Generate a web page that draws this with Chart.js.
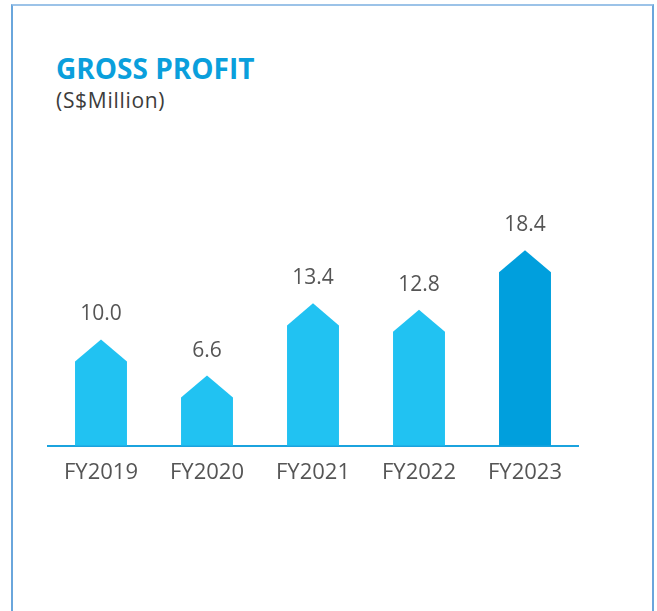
<!DOCTYPE html>
<html>
<head>
  <meta charset="utf-8">
  <title>Gross Profit</title>
  <script src="https://cdn.jsdelivr.net/npm/chart.js"></script>
  <style>
    html, body {
      margin: 0;
      padding: 0;
      background: white;
      font-family: 'Open Sans', sans-serif;
    }

    .page {
      position: relative;
      width: 657px;
      height: 611px;
      overflow: hidden;
    }

    .frame {
      position: absolute;
      left: 11px;
      top: 4px;
      width: 639px;
      height: 640px;
      border: 2px solid #6aa6dc;
      border-top-color: #9cc3e8;
    }

    .title {
      position: absolute;
      left: 56px;
      top: 49px;
      font-size: 28px;
      font-weight: bold;
      color: #0a9fdc;
      letter-spacing: 0px;
    }

    .subtitle {
      position: absolute;
      left: 56px;
      top: 86px;
      font-size: 21px;
      color: #3c3c3c;
      letter-spacing: 0.7px;
    }

    .chart-box {
      position: absolute;
      left: 0;
      top: 0;
      width: 657px;
      height: 611px;
    }
  </style>
</head>
<body>

<div class="page">
  <div class="frame"></div>
  <div class="title">GROSS PROFIT</div>
  <div class="subtitle">(S$Million)</div>
  <div class="chart-box">
    <canvas id="profitChart"></canvas>
  </div>
</div>

<script>
  const years = ['FY2019', 'FY2020', 'FY2021', 'FY2022', 'FY2023'];
  const grossProfit = [10.0, 6.6, 13.4, 12.8, 18.4];
  const barColors = ['#21c2f2', '#21c2f2', '#21c2f2', '#21c2f2', '#009fdd'];

  // bars with a pointed (arrow) top; the tip sits at the value
  const arrowBars = {
    id: 'arrowBars',
    beforeDatasetDraw(chart, args) {
      const ctx = chart.ctx;
      const meta = args.meta;
      ctx.save();
      meta.data.forEach((bar, i) => {
        const half = bar.width / 2;
        const shoulder = bar.y + half * 0.85;
        ctx.beginPath();
        ctx.moveTo(bar.x - half, bar.base);
        ctx.lineTo(bar.x - half, shoulder);
        ctx.lineTo(bar.x, bar.y);
        ctx.lineTo(bar.x + half, shoulder);
        ctx.lineTo(bar.x + half, bar.base);
        ctx.closePath();
        ctx.fillStyle = barColors[i];
        ctx.fill();
      });
      ctx.restore();
      return false;
    },
    afterDatasetsDraw(chart) {
      const ctx = chart.ctx;
      const meta = chart.getDatasetMeta(0);
      ctx.save();
      ctx.font = "21px 'Open Sans'";
      ctx.fillStyle = '#555555';
      ctx.textAlign = 'center';
      ctx.textBaseline = 'alphabetic';
      meta.data.forEach((bar, i) => {
        ctx.fillText(grossProfit[i].toFixed(1), bar.x, bar.y - 19);
      });
      ctx.restore();
    }
  };

  const ctx = document.getElementById('profitChart').getContext('2d');
  new Chart(ctx, {
    type: 'bar',
    data: {
      labels: years,
      datasets: [{
        data: grossProfit,
        backgroundColor: barColors,
        barPercentage: 0.49,
        categoryPercentage: 1
      }]
    },
    options: {
      responsive: true,
      maintainAspectRatio: false,
      animation: false,
      layout: {
        padding: { left: 48, right: 79, top: 212, bottom: 111 }
      },
      plugins: {
        legend: { display: false },
        tooltip: { enabled: false }
      },
      scales: {
        x: {
          grid: { display: false, drawTicks: false },
          border: { display: true, color: '#1ba3de', width: 2 },
          ticks: {
            color: '#555555',
            padding: 14,
            font: { family: 'Open Sans', size: 22 }
          }
        },
        y: {
          display: false,
          min: 0,
          max: 22
        }
      }
    },
    plugins: [arrowBars]
  });
</script>

</body>
</html>
